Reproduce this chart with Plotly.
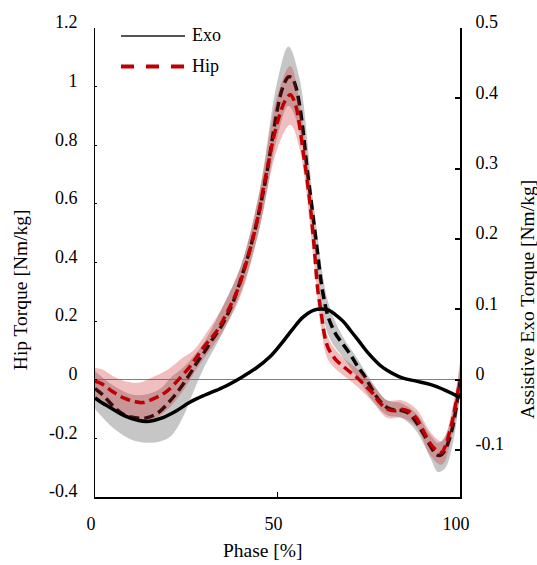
import plotly.graph_objects as go

# ---------------- data ----------------
# Hip torque with exo (black dashed, left axis)
hip_exo_phase = [0, 2, 5, 8, 11, 14, 17, 20, 23, 26, 28, 30, 32, 34, 36, 38, 40, 42, 44, 45,
                 46, 47, 48, 49, 50, 51, 52, 53, 54, 55, 56, 57, 58, 59, 60, 61, 62, 63, 64, 66,
                 68, 70, 72, 74, 76, 78, 80, 82, 84, 86, 88, 90, 92, 93, 94, 95, 96, 97, 98, 99, 100]
hip_exo = [-0.03, -0.05, -0.09, -0.12, -0.13, -0.13, -0.115, -0.08, -0.035, 0.02,
           0.06, 0.095, 0.135, 0.17, 0.215, 0.27, 0.345, 0.425, 0.52, 0.575,
           0.635, 0.70, 0.775, 0.855, 0.925, 0.98, 1.015, 1.033, 1.03, 1.00,
           0.94, 0.85, 0.73, 0.63, 0.53, 0.43, 0.33, 0.26, 0.21, 0.155,
           0.12, 0.085, 0.045, 0.01, -0.035, -0.072, -0.095, -0.103, -0.105, -0.115,
           -0.145, -0.185, -0.228, -0.248, -0.258, -0.255, -0.238, -0.205, -0.16, -0.09, -0.005]

# SD band around hip torque with exo (grey)
gray_phase = [0, 5, 10, 14, 18, 21, 24, 27, 30, 35, 40, 45, 50, 53, 56, 60, 64, 68, 72, 76,
              80, 84, 88, 92, 94, 96, 98, 100]
gray_lo = [-0.10, -0.165, -0.205, -0.215, -0.21, -0.19, -0.13, -0.04, 0.045, 0.16, 0.30, 0.51,
           0.83, 0.935, 0.85, 0.47, 0.15, 0.075, 0.005, -0.07, -0.12, -0.13, -0.175, -0.27,
           -0.315, -0.30, -0.22, -0.05]
gray_hi = [0.03, -0.02, -0.05, -0.05, -0.03, 0.01, 0.04, 0.08, 0.13, 0.25, 0.39, 0.64,
           1.02, 1.137, 1.03, 0.59, 0.26, 0.145, 0.07, -0.01, -0.07, -0.08, -0.115, -0.19,
           -0.215, -0.19, -0.11, 0.05]

# Hip torque (red dashed, left axis)
hip_phase = [0, 2, 5, 8, 11, 13, 15, 18, 20, 23, 26, 28, 30, 33, 36, 39, 41, 43, 45, 46,
             47.5, 49, 50.5, 52, 53.5, 55, 56, 57, 58, 59, 60, 61, 62, 63, 64, 66, 68, 70, 72, 74,
             76, 78, 80, 82, 84, 86, 88, 90, 92, 94, 95, 96, 97, 98, 99, 100]
hip = [-0.005, -0.015, -0.042, -0.063, -0.075, -0.078, -0.07, -0.053, -0.036, 0.002,
       0.045, 0.08, 0.115, 0.16, 0.225, 0.305, 0.38, 0.47, 0.575, 0.645,
       0.74, 0.83, 0.9, 0.95, 0.972, 0.935, 0.87, 0.78, 0.693, 0.59,
       0.46, 0.31, 0.225, 0.145, 0.105, 0.068, 0.046, 0.025, 0.005, -0.02,
       -0.045, -0.078, -0.1, -0.106, -0.101, -0.108, -0.13, -0.175, -0.22, -0.245,
       -0.248, -0.225, -0.185, -0.135, -0.07, 0.0]

# SD band around hip torque (red)
red_phase = [0, 2, 5, 8, 12, 16, 20, 24, 27, 30, 35, 40, 45, 50, 53.5, 56, 60, 62, 64, 68,
             72, 76, 80, 84, 88, 92, 95, 98, 100]
red_hi = [0.04, 0.035, 0.012, -0.004, -0.01, 0.01, 0.035, 0.075, 0.10, 0.15, 0.25, 0.39,
          0.635, 0.97, 1.07, 0.95, 0.52, 0.28, 0.14, 0.075, 0.035, -0.015, -0.07, -0.07,
          -0.10, -0.18, -0.21, -0.09, 0.06]
red_lo = [-0.06, -0.07, -0.10, -0.125, -0.145, -0.135, -0.10, -0.04, 0.02, 0.075, 0.165, 0.29,
          0.515, 0.79, 0.87, 0.79, 0.40, 0.17, 0.065, 0.015, -0.025, -0.075, -0.13, -0.13,
          -0.16, -0.26, -0.29, -0.18, -0.05]

# Assistive exo torque (black solid, right axis)
exo_phase = [0, 2, 4, 8, 12, 15, 18, 22, 26, 30, 35, 40, 44, 48, 51, 54, 57, 60, 62, 64,
             66, 68, 70, 72, 75, 78, 80, 84, 88, 92, 96, 100]
exo = [-0.026, -0.033, -0.039, -0.051, -0.058, -0.059, -0.055, -0.045, -0.032, -0.022,
       -0.011, 0.003, 0.016, 0.033, 0.051, 0.071, 0.089, 0.099, 0.1005, 0.099,
       0.092, 0.083, 0.07, 0.057, 0.037, 0.021, 0.0135, 0.003, -0.002, -0.007,
       -0.015, -0.025]

x_ticks = [0, 50, 100]
y_ticks = [-0.4, -0.2, 0, 0.2, 0.4, 0.6, 0.8, 1.0, 1.2]
y_ticktext = ["-0.4", "-0.2", "0", "0.2", "0.4", "0.6", "0.8", "1", "1.2"]
y2_ticks = [-0.1, 0, 0.1, 0.2, 0.3, 0.4, 0.5]
y2_ticktext = ["-0.1", "0", "0.1", "0.2", "0.3", "0.4", "0.5"]

legend_labels = ["Exo", "Hip"]

# ---------------- figure ----------------
FONT = "Liberation Serif"
fig = go.Figure()

# grey band
fig.add_trace(go.Scatter(x=gray_phase, y=gray_lo, mode="lines", line=dict(width=0, shape="spline"),
                         showlegend=False, hoverinfo="skip"))
fig.add_trace(go.Scatter(x=gray_phase, y=gray_hi, mode="lines", line=dict(width=0, shape="spline"),
                         fill="tonexty", fillcolor="rgba(128,128,128,0.45)",
                         showlegend=False, hoverinfo="skip"))
# hip with exo
fig.add_trace(go.Scatter(x=hip_exo_phase, y=hip_exo, mode="lines",
                         line=dict(color="black", width=3.5, dash="10px,5px", shape="spline"),
                         showlegend=False))
# red band
fig.add_trace(go.Scatter(x=red_phase, y=red_lo, mode="lines", line=dict(width=0, shape="spline"),
                         showlegend=False, hoverinfo="skip"))
fig.add_trace(go.Scatter(x=red_phase, y=red_hi, mode="lines", line=dict(width=0, shape="spline"),
                         fill="tonexty", fillcolor="rgba(205,40,40,0.3)",
                         showlegend=False, hoverinfo="skip"))
# hip
fig.add_trace(go.Scatter(x=hip_phase, y=hip, mode="lines",
                         line=dict(color="#c00000", width=3.5, dash="10px,5px", shape="spline"),
                         name=legend_labels[1], showlegend=False))
# exo torque
fig.add_trace(go.Scatter(x=exo_phase, y=exo, mode="lines", yaxis="y2",
                         line=dict(color="black", width=3.5, shape="spline"),
                         name=legend_labels[0], showlegend=False))

W, H = 537, 565
L, R, T, B = 95, 77, 23, 68
pw, ph = W - L - R, H - T - B


def px(xp):
    return (xp - L) / pw


def py(yp):
    return (H - B - yp) / ph


# manual legend
fig.add_shape(type="line", xref="paper", yref="paper", x0=px(121), x1=px(185), y0=py(31), y1=py(31),
              line=dict(color="#555555", width=2))
fig.add_shape(type="line", xref="paper", yref="paper", x0=px(121), x1=px(185), y0=py(62), y1=py(62),
              line=dict(color="#c00000", width=4, dash="13px,12px"))
fig.add_annotation(xref="paper", yref="paper", x=px(190), y=py(30), text=legend_labels[0],
                   showarrow=False, xanchor="left", yanchor="middle",
                   font=dict(family=FONT, size=18, color="black"))
fig.add_annotation(xref="paper", yref="paper", x=px(190), y=py(61), text=legend_labels[1],
                   showarrow=False, xanchor="left", yanchor="middle",
                   font=dict(family=FONT, size=18, color="black"))

# axis titles
fig.add_annotation(xref="paper", yref="paper", x=px(20), y=py(288), text="Hip Torque [Nm/kg]",
                   textangle=-90, showarrow=False, xanchor="center", yanchor="middle",
                   font=dict(family=FONT, size=19.5, color="black"))
fig.add_annotation(xref="paper", yref="paper", x=px(527), y=py(298), text="Assistive Exo Torque [Nm/kg]",
                   textangle=-90, showarrow=False, xanchor="center", yanchor="middle",
                   font=dict(family=FONT, size=19.5, color="black"))
fig.add_annotation(xref="paper", yref="paper", x=px(263), y=py(551), text="Phase [%]",
                   showarrow=False, xanchor="center", yanchor="middle",
                   font=dict(family=FONT, size=19.5, color="black"))

fig.update_layout(
    width=W, height=H,
    margin=dict(l=L, r=R, t=T, b=B, pad=0),
    paper_bgcolor="white", plot_bgcolor="white",
    font=dict(family=FONT, size=18, color="black"),
    xaxis=dict(range=[0, 100], tickvals=x_ticks, ticktext=[str(v) for v in x_ticks],
               showgrid=False, zeroline=False, showline=True, linecolor="black", linewidth=1.5,
               ticks="inside", ticklen=5, tickwidth=1, tickcolor="black",
               ticklabelstandoff=10, ticklabelshift=-4),
    yaxis=dict(range=[-0.4, 1.2], tickvals=y_ticks, ticktext=y_ticktext,
               showgrid=False, zeroline=True, zerolinecolor="#808080", zerolinewidth=1,
               showline=True, linecolor="black", linewidth=1,
               ticks="inside", ticklen=2, tickwidth=1, tickcolor="black",
               ticklabelstandoff=13, ticklabelshift=-6),
    yaxis2=dict(range=[-1 / 6, 0.5], tickvals=y2_ticks, ticktext=y2_ticktext,
                overlaying="y", side="right", anchor="x",
                showgrid=False, zeroline=False,
                showline=True, linecolor="black", linewidth=2,
                ticks="inside", ticklen=5, tickwidth=1.5, tickcolor="black",
                ticklabelstandoff=10, ticklabelshift=-6),
    showlegend=False,
)

fig.write_html("out.html", config={"displayModeBar": False},
               post_script="document.body.style.margin='0px';document.body.style.padding='0px';"
                           "document.body.style.overflow='hidden';")
